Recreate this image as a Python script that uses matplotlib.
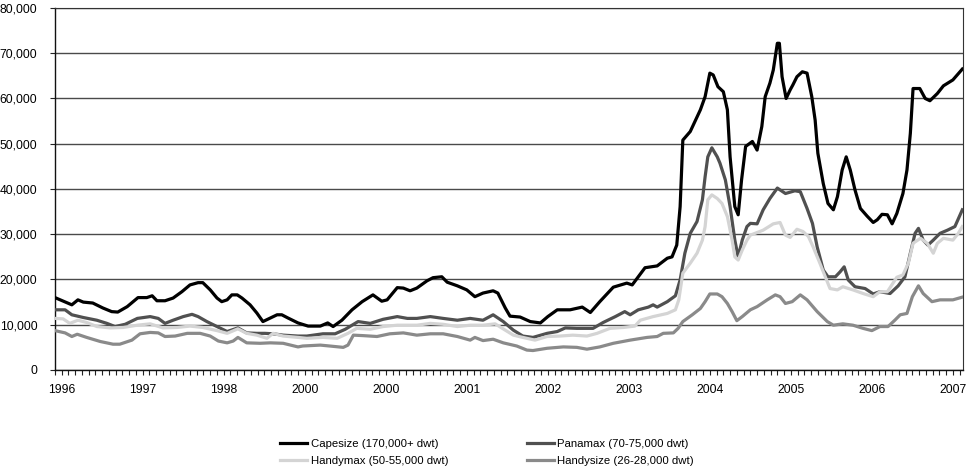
import matplotlib
matplotlib.use("Agg")
import matplotlib.pyplot as plt
from matplotlib.ticker import FixedLocator, MultipleLocator, FuncFormatter

plt.rcParams['font.family'] = ['Liberation Sans', 'DejaVu Sans']

# ---- data (x = months since start of chart, y = USD/day) ----
cape_m = [0, 2.5, 3.4, 4.2, 5.6, 7.1, 8.4, 9.3, 10.7, 12.3, 13.6, 14.4, 15.1, 16.3, 17.5, 18.8, 20.0, 21.2, 21.9,
          23.0, 24.0, 24.7, 25.5, 26.2, 27.0, 27.7, 28.9, 29.9, 30.8, 31.9, 32.9, 33.6, 34.5, 36.0,
          37.5, 39.3, 40.4, 41.2, 42.5, 44.0, 45.5, 47.1, 48.4, 49.2, 50.7, 51.6, 52.6, 53.6, 55.1, 56.0, 57.3,
          58.1, 59.6, 61.0, 62.2, 63.4, 64.9, 65.6, 66.7, 67.4, 68.9, 70.4, 71.9,
          73.0, 74.4, 76.3, 78.1, 79.3, 80.7, 82.7, 84.7, 85.5, 87.4, 89.2, 90.7, 91.4, 92.1, 92.6, 93.0,
          94.1, 95.6, 96.3, 97.0, 97.5, 98.2, 99.0, 99.6, 100.0, 100.7, 101.2, 101.7, 102.3,
          103.3, 104.0, 104.7, 105.2, 105.9, 106.4, 107.0, 107.3, 107.7, 108.3, 108.9, 109.3, 109.9, 110.7,
          111.4, 112.1, 112.6, 113.0, 113.8, 114.5, 115.3, 115.9, 116.6, 117.2, 117.8, 118.5, 119.3, 120.3,
          121.2, 121.8, 122.5, 123.3, 124.0, 124.7, 125.6, 126.2, 126.7, 127.1, 128.1, 128.9, 129.6, 130.7,
          131.6, 133.0, 134.4]
cape_v = [16000, 14400, 15500, 15000, 14800, 13700, 12900, 12800, 14000, 16000, 16000, 16400, 15300, 15300, 15900,
          17300, 18800, 19300, 19300, 17700, 15900, 15100, 15500, 16600, 16600, 15900, 14400, 12600, 10700, 11500,
          12200, 12200, 11500, 10400,
          9700, 9700, 10400, 9600, 11000, 13300, 15100, 16600, 15200, 15500, 18200, 18100, 17500, 18100, 19700,
          20400, 20600, 19400, 18600, 17700, 16200, 17000, 17500, 17000, 13700, 11900, 11700, 10700, 10400,
          11800, 13300, 13300, 13900, 12700, 15100, 18300, 19200, 18800, 22600, 23000, 24700, 25000, 27600,
          36100, 50800, 52700, 57500, 60400, 65600, 65200, 62600, 61500, 57500, 47100, 36100, 34300, 42000, 49400,
          50500, 48600, 53800, 60400, 63400, 66300, 72200, 72200, 64800, 60000, 61900, 63000, 64800, 65900,
          65600, 60400, 55200, 47900, 41200, 36800, 35400, 38300, 44200, 47100, 44200, 39800, 35700, 34000,
          32600, 33200, 34400, 34300, 32300, 34600, 39000, 44200, 52300, 62200, 62200, 60000, 59500, 61100,
          62800, 64100, 66500]

pana_m = [0, 1.5, 2.5, 4.2, 6.2, 7.7, 8.9, 10.4, 12.2, 14.1, 15.3, 16.3, 17.5, 19.0, 20.3, 21.2, 22.5, 24.0, 25.5,
          27.1, 28.4, 29.9, 31.1, 32.3, 33.8, 36.0,
          37.3, 39.7, 41.5, 43.0, 44.9, 46.7, 48.6, 50.7, 52.2, 53.6, 55.6, 57.5, 59.6, 61.5, 63.4, 64.9, 66.4,
          67.9, 69.3,
          70.8, 72.9, 74.4, 75.6, 77.3, 78.8, 79.7, 81.2, 83.0, 84.4, 85.2, 86.4, 87.9, 88.6, 89.2, 90.7, 91.9,
          92.6, 93.3, 94.1, 95.1, 95.9, 96.3, 96.7, 97.3, 98.1, 98.5, 99.3, 100.0, 100.7, 101.2, 101.8, 102.5,
          103.0, 104.0, 104.9, 105.9, 107.0, 108.2, 109.6, 110.4, 111.4, 112.2, 112.9, 113.8, 114.5, 115.6, 116.3,
          116.9, 117.5, 118.5, 120.0, 121.2, 122.2, 123.7, 124.9, 125.9, 126.7, 127.4, 127.9, 128.6, 129.3,
          130.1, 131.1, 132.2, 133.3, 134.4]
pana_v = [13300, 13300, 12200, 11600, 11000, 10300, 9600, 10100, 11400, 11800, 11400, 10300, 11000, 11800, 12300,
          11800, 10700, 9600, 8500, 9300, 8200, 8100, 8100, 8000, 7700, 7500,
          7500, 8000, 8000, 9000, 10700, 10300, 11200, 11800, 11400, 11400, 11800, 11400, 11000, 11400, 11000,
          12200, 10700, 8800, 7500,
          7200, 8100, 8500, 9300, 9200, 9200, 9200, 10500, 11800, 12900, 12200, 13300, 13900, 14400, 13900,
          15100, 16400, 19900, 25800, 30200, 32800, 37600, 42700, 47100, 49100, 47100, 45700, 42000, 36100,
          28700, 25000, 28700, 31700,
          32400, 32300, 35400, 37900, 40200, 39000, 39600, 39400, 35700, 32400, 27200, 22100, 20600, 20600,
          21700, 22800, 19900, 18400, 18000, 16800, 17300, 16900, 18600, 20600, 25800, 30200, 31300, 28700,
          27600, 28700, 30200, 30900, 31700, 35400]

hmax_m = [0, 1.2, 2.2, 3.4, 4.7, 6.2, 8.2, 10.1, 12.2, 14.1, 16.0, 18.1, 20.0, 21.9, 24.0, 25.5, 27.1, 28.4,
          29.9, 31.4, 32.3, 33.8, 36.0,
          37.3, 39.7, 41.8, 43.4, 44.7, 46.7, 48.6, 50.7, 53.6, 55.6, 57.5, 59.6, 61.5, 63.4, 65.2, 66.7, 67.9,
          69.3, 71.1,
          72.9, 74.8, 76.7, 78.8, 80.3, 82.2, 84.2, 85.9, 86.7, 88.6, 90.7, 91.9, 92.4, 93.0, 94.1, 95.1, 95.9,
          96.3, 96.7, 97.3, 98.1, 98.8, 99.6, 100.3, 100.7, 101.2, 101.8, 102.5, 103.0,
          104.9, 106.4, 107.4, 108.2, 108.9, 109.9, 110.8, 111.6, 112.3, 113.3, 114.1, 114.8, 115.9, 116.7,
          118.2, 119.7, 121.2, 122.2, 123.3, 124.7, 125.6, 126.4, 127.1, 128.2, 129.2, 130.1, 130.7, 131.6,
          133.0, 133.8, 134.4]
hmax_v = [11400, 11300, 10300, 11000, 10500, 9600, 9300, 9400, 9900, 10200, 9300, 9400, 9700, 9400, 8700, 8100,
          9100, 8100, 7700, 7000, 8100, 7500, 7200,
          7000, 7200, 7000, 8100, 9200, 9000, 9600, 9900, 9900, 10300, 10100, 9600, 9900, 9900, 10200, 8800,
          7700, 7200, 6600,
          7400, 7500, 7700, 7500, 8100, 9200, 9400, 9700, 11000, 11800, 12500, 13300, 15500, 21400, 23600,
          25800, 28700, 31700, 37600, 38700, 37900, 36800, 33900, 28700, 25000, 24300, 26500, 28700, 29800,
          30900, 32300, 32600, 29800, 29300, 31100, 30600, 29500, 27200, 23600, 20600, 18000, 17700, 18400,
          17700, 16900, 16200, 17300, 17300, 20500, 21000, 23600, 28000, 29100, 28000, 25800, 28000, 29100,
          28700, 30200, 31700]

hsize_m = [0, 1.5, 2.5, 3.3, 4.7, 6.7, 8.6, 9.6, 11.4, 12.6, 14.1, 15.3, 16.3, 17.8, 19.6, 21.5, 23.0, 24.2,
           25.5, 26.4, 27.1, 28.4, 30.4, 31.9, 33.8, 36.0,
           36.7, 39.3, 40.7, 42.7, 43.4, 44.2, 45.6, 47.7, 49.6, 51.6, 53.6, 55.6, 57.5, 59.6, 61.5, 62.2, 63.4,
           64.9, 66.4, 68.4, 69.9,
           70.8, 72.9, 75.3, 77.3, 78.8, 80.7, 82.7, 85.2, 87.7, 89.2, 90.1, 91.6, 92.3, 93.0, 94.4, 95.6, 96.3,
           97.0, 98.1, 98.8, 99.6, 100.3, 101.0, 101.8, 103.0,
           104.0, 105.5, 106.7, 107.4, 108.2, 109.2, 110.4, 111.4, 112.9, 114.4, 115.3, 116.7, 118.2, 119.7,
           121.0, 122.2, 123.4, 124.4, 125.2, 126.2, 127.0, 127.9, 128.6, 129.9, 131.1, 133.0, 134.4]
hsize_v = [8700, 8200, 7400, 7900, 7200, 6300, 5700, 5700, 6600, 8000, 8300, 8200, 7400, 7500, 8100, 8100, 7500,
           6400, 6000, 6400, 7200, 6000, 5900, 6000, 5900, 5100,
           5300, 5500, 5300, 5000, 5500, 7700, 7600, 7400, 8000, 8200, 7700, 8000, 8000, 7400, 6600, 7200, 6500,
           6800, 6000, 5300, 4400,
           4300, 4800, 5100, 5000, 4600, 5100, 5900, 6600, 7200, 7400, 8100, 8200, 9200, 10700, 12200, 13600,
           15100, 16800, 16800, 16200, 14700, 12900, 10900, 11800, 13300,
           14000, 15500, 16600, 16200, 14700, 15100, 16600, 15500, 12900, 10700, 9900, 10200, 9900, 9200, 8700,
           9600, 9600, 11000, 12200, 12500, 16200, 18600, 16900, 15100, 15500, 15500, 16100]

tick_labels = ['1996', '1997', '1998', '2000', '2000', '2001', '2002', '2003', '2004', '2005', '2006', '2007']
label_months = [1 + 12 * i for i in range(len(tick_labels))]

series = [
    ('Capesize (170,000+ dwt)', cape_m, cape_v, '#000000'),
    ('Panamax (70-75,000 dwt)', pana_m, pana_v, '#505050'),
    ('Handymax (50-55,000 dwt)', hmax_m, hmax_v, '#d4d4d4'),
    ('Handysize (26-28,000 dwt)', hsize_m, hsize_v, '#8a8a8a'),
]

fig = plt.figure(figsize=(9.66, 4.69), dpi=100)
ax = fig.add_axes([0.0569, 0.2111, 0.9400, 0.7719])

handles = {}
for name, m, v, c in series:
    h, = ax.plot(m, v, color=c, lw=2.3, label=name, solid_joinstyle='round', zorder=3)
    handles[name] = h

ax.set_xlim(0, 134.5)
ax.set_ylim(0, 80000)
ax.yaxis.set_major_locator(MultipleLocator(10000))
ax.yaxis.set_major_formatter(FuncFormatter(lambda v, p: f'{int(v):,}'))
ax.grid(axis='y', color='#4a4a4a', lw=1.0, zorder=1)
ax.set_axisbelow(True)

ax.xaxis.set_major_locator(FixedLocator(label_months))
ax.set_xticklabels(tick_labels)
ax.xaxis.set_minor_locator(MultipleLocator(1))
ax.tick_params(axis='x', which='both', direction='out', length=3.3, width=0.8, pad=7, labelsize=8.7, color='#222222')
ax.tick_params(axis='y', direction='out', length=3.6, width=0.8, pad=9, labelsize=8.7, color='#222222')

for s in ['left', 'bottom']:
    ax.spines[s].set_color('#111111')
    ax.spines[s].set_linewidth(1.0)
for s in ['top', 'right']:
    ax.spines[s].set_color('#333333')
    ax.spines[s].set_linewidth(0.8)

# row-major order as in the reference: (Capesize, Panamax) / (Handymax, Handysize)
order = [series[0][0], series[2][0], series[1][0], series[3][0]]
leg = fig.legend([handles[n] for n in order], order, loc='center', bbox_to_anchor=(0.504, 0.035), ncol=2,
                 frameon=False, fontsize=8.2, handlelength=2.4, handletextpad=0.3, columnspacing=6.9,
                 labelspacing=0.6)

fig.savefig('out.png', dpi=100)
